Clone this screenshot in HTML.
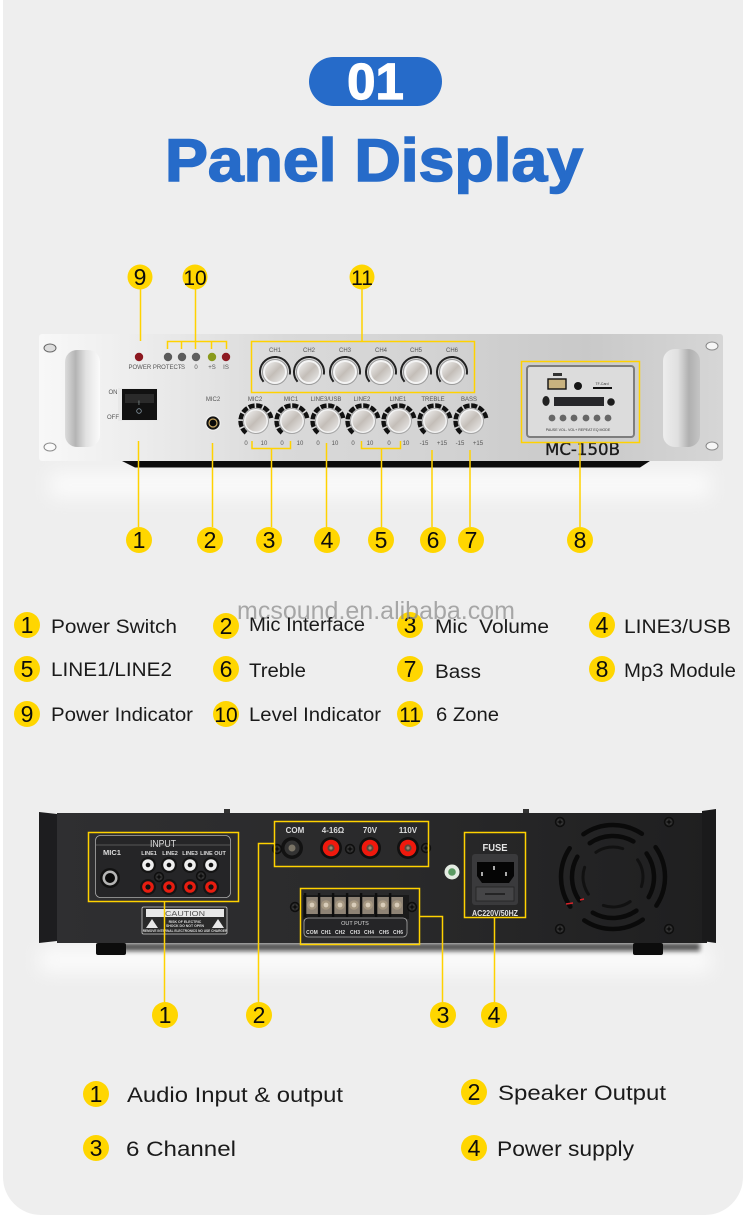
<!DOCTYPE html>
<html><head><meta charset="utf-8"><title>Panel Display</title>
<style>
html,body{margin:0;padding:0;background:#fff}
svg{display:block}
text{font-family:"Liberation Sans",sans-serif}
.l{font-size:19px;fill:#1a1a1a}
.m{font-size:21.5px;fill:#1a1a1a}
.b{font-size:23px;fill:#0c0c0c;text-anchor:middle}
.s{font-size:6px;fill:#555;text-anchor:middle}
.w{font-size:6.5px;fill:#ddd;text-anchor:middle;font-weight:bold}
.y{fill:none;stroke:#ffd200;stroke-width:1.5}
</style></head><body>
<svg width="750" height="1217" viewBox="0 0 750 1217" xmlns="http://www.w3.org/2000/svg">
<defs>
<filter id="soft" x="-10%" y="-60%" width="120%" height="220%"><feGaussianBlur stdDeviation="9"/></filter>
<filter id="soft2" x="-10%" y="-100%" width="120%" height="300%"><feGaussianBlur stdDeviation="2.500"/></filter>
<linearGradient id="panel" x1="0" y1="0" x2="1" y2="0">
<stop offset="0" stop-color="#f8f8f8"/><stop offset=".2" stop-color="#e8e8e8"/><stop offset=".36" stop-color="#d9d9d9"/><stop offset=".55" stop-color="#d4d4d4"/><stop offset=".8" stop-color="#c9c9c9"/><stop offset="1" stop-color="#d6d6d6"/>
</linearGradient>
<linearGradient id="handle" x1="0" y1="0" x2="1" y2="0">
<stop offset="0" stop-color="#dcdcdc"/><stop offset=".3" stop-color="#b4b4b4"/><stop offset=".6" stop-color="#e2e2e2"/><stop offset="1" stop-color="#fbfbfb"/>
</linearGradient>
<linearGradient id="handleR" x1="0" y1="0" x2="1" y2="0">
<stop offset="0" stop-color="#ededed"/><stop offset=".4" stop-color="#e0e0e0"/><stop offset=".7" stop-color="#b0b0b0"/><stop offset="1" stop-color="#c4c4c4"/>
</linearGradient>
<linearGradient id="cap" x1="0" y1="0" x2="1" y2="1">
<stop offset="0" stop-color="#f2f2f2"/><stop offset=".5" stop-color="#c4beb8"/><stop offset="1" stop-color="#ededed"/>
</linearGradient>
<linearGradient id="rear" x1="0" y1="0" x2="1" y2="0">
<stop offset="0" stop-color="#2f2f31"/><stop offset=".5" stop-color="#2a2a2b"/><stop offset="1" stop-color="#1f1f20"/>
</linearGradient>
<symbol id="knobS" overflow="visible">
<circle r="15" fill="none" stroke="#222" stroke-width="2" stroke-dasharray="60 34" transform="rotate(140)"/>
<circle r="12.500" fill="#f4f4f4" stroke="#9a9a9a" stroke-width="1"/>
<circle r="10" fill="url(#cap)"/>
</symbol>
<symbol id="knobL" overflow="visible">
<circle r="15.500" fill="none" stroke="#111" stroke-width="4.400" stroke-dasharray="6 1.600 6 1.600 6 1.600 6 1.600 6 1.600 6 1.600 6 1.600 6 40" transform="rotate(130)"/>
<circle r="12.500" fill="#f2f2f2" stroke="#a5a5a5" stroke-width="1"/>
<circle r="10.500" fill="url(#cap)"/>
</symbol>
<symbol id="rca" overflow="visible">
<circle r="8" fill="#151515"/><circle r="5.800" fill="#eee"/><circle r="2.300" fill="#111"/>
</symbol>
<symbol id="rcaR" overflow="visible">
<circle r="8" fill="#151515"/><circle r="5.800" fill="#e81d10"/><circle r="2.600" fill="#111"/>
</symbol>
<symbol id="post" overflow="visible">
<circle r="11" fill="#111"/><circle r="8.300" fill="#f0190d"/><circle r="3.600" fill="#5a4b3e"/><circle r="1.600" fill="#9c8b75"/>
</symbol>
<symbol id="screw" overflow="visible">
<circle r="5.200" fill="#0e0e0e"/><circle r="3.600" fill="#333"/><path d="M-2.400 0H2.400M0 -2.400V2.400" stroke="#000" stroke-width="1"/>
</symbol>
<symbol id="term" overflow="visible">
<rect x="-6" y="-9" width="12" height="17" fill="#8e8375"/><circle cy="-1" r="4.800" fill="#a69882"/><circle cy="-1" r="2.400" fill="#d8ccb9"/>
<rect x="-8.100" y="-13" width="2.400" height="24" fill="#0d0d0d"/>
</symbol>
</defs>

<rect width="750" height="1217" fill="#fff"/>
<path d="M3 0H743V1177a38 38 0 0 1-38 38H41a38 38 0 0 1-38-38Z" fill="#eeeeee"/>

<!-- Title -->
<rect x="309" y="57" width="133" height="49" rx="24.500" fill="#266bc9"/>
<text x="375.500" y="99" font-size="51" font-weight="bold" fill="#fff" stroke="#fff" stroke-width="1.200" text-anchor="middle">01</text>
<text x="165" y="181" font-size="60" font-weight="bold" fill="#266bc9" stroke="#266bc9" stroke-width="1.600" textLength="418" lengthAdjust="spacingAndGlyphs">Panel Display</text>

<!-- Front unit -->
<rect x="50" y="472" width="660" height="26" fill="#fafafa" filter="url(#soft)"/>
<path d="M118 459H653L640 467.500H135Z" fill="#0c0c0c"/>
<rect x="39" y="334" width="684" height="127" rx="3" fill="url(#panel)"/>
<rect x="65" y="350" width="35" height="97" rx="12" fill="url(#handle)"/>
<rect x="663" y="349" width="37" height="98" rx="12" fill="url(#handleR)"/>
<ellipse cx="50" cy="348" rx="6" ry="4" fill="#ddd" stroke="#666" stroke-width="1"/>
<ellipse cx="50" cy="447" rx="6" ry="4" fill="#fafafa" stroke="#888" stroke-width="1"/>
<ellipse cx="712" cy="346" rx="6" ry="4" fill="#f6f6f6" stroke="#888" stroke-width="1"/>
<ellipse cx="712" cy="446" rx="6" ry="4" fill="#f6f6f6" stroke="#888" stroke-width="1"/>

<!-- LEDs -->
<circle cx="139" cy="357" r="4.200" fill="#8c1820"/>
<circle cx="168" cy="357" r="4.200" fill="#5a5a5a"/>
<circle cx="182" cy="357" r="4.200" fill="#5c5c5c"/>
<circle cx="196" cy="357" r="4.200" fill="#5e5e5e"/>
<circle cx="212" cy="357" r="4.200" fill="#8a9a1c"/>
<circle cx="226" cy="357" r="4.200" fill="#8e1a22"/>
<text class="s" x="155" y="369">POWER PROTECT</text>
<text class="s" x="182" y="369">-S</text>
<text class="s" x="196" y="369">0</text>
<text class="s" x="212" y="369">+S</text>
<text class="s" x="226" y="369">IS</text>

<!-- Switch -->
<rect x="118" y="388" width="41" height="33" fill="#e8e8e8"/>
<rect x="122" y="389" width="35" height="31" fill="#111"/>
<rect x="125" y="394" width="29" height="9" fill="#2a2a2a"/>
<text class="s" x="139" y="405" style="fill:#9aa">I</text>
<circle cx="139" cy="411" r="2.300" fill="none" stroke="#8a9aa5" stroke-width=".8"/>
<text class="s" x="113" y="394">ON</text>
<text class="s" x="113" y="419">OFF</text>

<!-- Mic2 -->
<text class="s" x="213" y="401">MIC2</text>
<circle cx="213" cy="423" r="8" fill="#ededed"/>
<circle cx="213" cy="423" r="6.600" fill="#111"/>
<circle cx="213" cy="423" r="4.600" fill="#c9a760"/>
<circle cx="213" cy="423" r="3.400" fill="#0a0a0a"/>

<!-- CH knobs -->
<g>
<text class="s" x="275" y="352">CH1</text><text class="s" x="309" y="352">CH2</text><text class="s" x="345" y="352">CH3</text><text class="s" x="381" y="352">CH4</text><text class="s" x="416" y="352">CH5</text><text class="s" x="452" y="352">CH6</text>
<use href="#knobS" x="275" y="372"/><use href="#knobS" x="309" y="372"/><use href="#knobS" x="345" y="372"/><use href="#knobS" x="381" y="372"/><use href="#knobS" x="416" y="372"/><use href="#knobS" x="452" y="372"/>
</g>
<!-- Volume knobs -->
<g>
<text class="s" x="255" y="401">MIC2</text><text class="s" x="291" y="401">MIC1</text><text class="s" x="326" y="401">LINE3/USB</text><text class="s" x="362" y="401">LINE2</text><text class="s" x="398" y="401">LINE1</text><text class="s" x="433" y="401">TREBLE</text><text class="s" x="469" y="401">BASS</text>
<use href="#knobL" x="256" y="421"/><use href="#knobL" x="292" y="421"/><use href="#knobL" x="328" y="421"/><use href="#knobL" x="363" y="421"/><use href="#knobL" x="399" y="421"/><use href="#knobL" x="435" y="421"/><use href="#knobL" x="471" y="421"/>
<text class="s" x="246" y="445">0</text><text class="s" x="264" y="445">10</text><text class="s" x="282" y="445">0</text><text class="s" x="300" y="445">10</text><text class="s" x="318" y="445">0</text><text class="s" x="335" y="445">10</text><text class="s" x="353" y="445">0</text><text class="s" x="370" y="445">10</text><text class="s" x="389" y="445">0</text><text class="s" x="406" y="445">10</text><text class="s" x="424" y="445">-15</text><text class="s" x="442" y="445">+15</text><text class="s" x="460" y="445">-15</text><text class="s" x="478" y="445">+15</text>
</g>

<!-- MP3 module -->
<rect x="527" y="366" width="107" height="71" rx="3" fill="#dcdcdc" stroke="#7d7d7d" stroke-width="2"/>
<rect x="548" y="379" width="18" height="10" fill="#c8b27f" stroke="#111" stroke-width="1.400"/>
<rect x="553" y="373" width="9" height="3" fill="#333"/>
<circle cx="578" cy="386" r="4" fill="#151515"/>
<rect x="593" y="387" width="19" height="2" fill="#111"/>
<text class="s" x="602" y="385" style="font-size:3.500px;fill:#333">TF-Card</text>
<rect x="554" y="397" width="50" height="9" fill="#27272a"/>
<ellipse cx="546" cy="401" rx="3.600" ry="5" fill="#222"/>
<circle cx="611" cy="402" r="3.800" fill="#1c1c1c"/>
<g fill="#666"><circle cx="552" cy="418" r="3.400"/><circle cx="563" cy="418" r="3.400"/><circle cx="574" cy="418" r="3.400"/><circle cx="586" cy="418" r="3.400"/><circle cx="597" cy="418" r="3.400"/><circle cx="608" cy="418" r="3.400"/></g>
<text class="s" x="578" y="431" style="font-size:3.600px;fill:#333">PAUSE VOL- VOL+ REPEAT EQ MODE</text>
<text x="545" y="455" font-size="17" fill="#1a1a1a" stroke="#1a1a1a" stroke-width=".35" textLength="75" lengthAdjust="spacingAndGlyphs" style="font-family:'DejaVu Sans',sans-serif">MC-150B</text>

<!-- Front yellow lines -->
<g class="y">
<path d="M140.500 289V341"/>
<path d="M195.500 289V341.500M167.500 349V341.500H226.500V349M181.500 342V349M195.500 342V349M211.500 342V349"/>
<path d="M362 289V341.500"/>
<rect x="251.500" y="341.500" width="223" height="51"/>
<rect x="521.500" y="361.500" width="118" height="81"/>
<path d="M580 442V527"/>
<path d="M138.500 441V527M212.500 443V527"/>
<path d="M252 441V448.500H290.500V441M271.500 448V527"/>
<path d="M326.500 443V527"/>
<path d="M361.500 441V448.500H400.500V441M381.500 448V527"/>
<path d="M432 450V527M470 450V527"/>
</g>
<g fill="#ffd600">
<circle cx="140" cy="277" r="12.500"/><circle cx="195" cy="277" r="12.500"/><circle cx="362" cy="277" r="12.500"/>
<circle cx="139" cy="540" r="13"/><circle cx="210" cy="540" r="13"/><circle cx="269" cy="540" r="13"/><circle cx="327" cy="540" r="13"/><circle cx="381" cy="540" r="13"/><circle cx="433" cy="540" r="13"/><circle cx="471" cy="540" r="13"/><circle cx="580" cy="540" r="13"/>
</g>
<text class="b" x="140" y="285">9</text><text class="b" x="195" y="285" style="font-size:21px">10</text><text class="b" x="362" y="285" style="font-size:21px">11</text>
<text class="b" x="139" y="548">1</text><text class="b" x="210" y="548">2</text><text class="b" x="269" y="548">3</text><text class="b" x="327" y="548">4</text><text class="b" x="381" y="548">5</text><text class="b" x="433" y="548">6</text><text class="b" x="471" y="548">7</text><text class="b" x="580" y="548">8</text>

<!-- Legend 1 -->
<g fill="#ffd600">
<circle cx="27" cy="625" r="13"/><circle cx="226" cy="626" r="13"/><circle cx="410" cy="625" r="13"/><circle cx="602" cy="625" r="13"/>
<circle cx="27" cy="669" r="13"/><circle cx="226" cy="669" r="13"/><circle cx="410" cy="669" r="13"/><circle cx="602" cy="669" r="13"/>
<circle cx="27" cy="714" r="13"/><circle cx="226" cy="714" r="13"/><circle cx="410" cy="714" r="13"/>
</g>
<text class="b" x="27" y="633">1</text><text class="b" x="226" y="634">2</text><text class="b" x="410" y="633">3</text><text class="b" x="602" y="633">4</text>
<text class="b" x="27" y="677">5</text><text class="b" x="226" y="677">6</text><text class="b" x="410" y="677">7</text><text class="b" x="602" y="677">8</text>
<text class="b" x="27" y="722">9</text><text class="b" x="226" y="722" style="font-size:21px">10</text><text class="b" x="410" y="722" style="font-size:21px">11</text>

<text x="237" y="619" font-size="25" fill="#8f8f8f" opacity=".75" textLength="278" lengthAdjust="spacingAndGlyphs">mcsound.en.alibaba.com</text>

<text class="l" x="51" y="633" textLength="126" lengthAdjust="spacingAndGlyphs">Power Switch</text>
<text class="l" x="249" y="631" textLength="116" lengthAdjust="spacingAndGlyphs">Mic Interface</text>
<text class="l" x="435" y="633" textLength="114" lengthAdjust="spacingAndGlyphs" xml:space="preserve">Mic  Volume</text>
<text class="l" x="624" y="633" textLength="107" lengthAdjust="spacingAndGlyphs">LINE3/USB</text>
<text class="l" x="51" y="676" textLength="121" lengthAdjust="spacingAndGlyphs">LINE1/LINE2</text>
<text class="l" x="249" y="677" textLength="57" lengthAdjust="spacingAndGlyphs">Treble</text>
<text class="l" x="435" y="678" textLength="46" lengthAdjust="spacingAndGlyphs">Bass</text>
<text class="l" x="624" y="677" textLength="112" lengthAdjust="spacingAndGlyphs">Mp3 Module</text>
<text class="l" x="51" y="721" textLength="142" lengthAdjust="spacingAndGlyphs">Power Indicator</text>
<text class="l" x="249" y="721" textLength="132" lengthAdjust="spacingAndGlyphs">Level Indicator</text>
<text class="l" x="436" y="721" textLength="63" lengthAdjust="spacingAndGlyphs">6 Zone</text>

<!-- Rear unit -->
<rect x="40" y="948" width="670" height="24" fill="#fbfbfb" filter="url(#soft)"/>
<rect x="110" y="943" width="590" height="8" fill="#111" opacity=".7" filter="url(#soft2)"/>
<rect x="96" y="943" width="30" height="12" rx="2" fill="#0c0c0c"/>
<rect x="633" y="943" width="30" height="12" rx="2" fill="#0c0c0c"/>
<rect x="57" y="813" width="650" height="130" fill="url(#rear)"/>
<path d="M39 812L57 814V941L39 943Z" fill="#1d1d1f"/>
<path d="M702 811L716 809V943L702 941Z" fill="#1a1a1b"/>
<rect x="224" y="809" width="6" height="4" fill="#333"/><rect x="523" y="809" width="6" height="4" fill="#333"/>

<!-- Input plate -->
<rect x="95.500" y="835.500" width="135" height="62" rx="5" fill="#252527" stroke="#aaa" stroke-width=".8"/>
<path d="M96 845H230" stroke="#888" stroke-width=".6"/>
<text class="w" x="163" y="847" style="font-size:10.500px;font-weight:normal" textLength="26" lengthAdjust="spacingAndGlyphs">INPUT</text>
<text class="w" x="112" y="855" style="font-size:7.500px">MIC1</text>
<text class="w" x="149" y="855" style="font-size:5.500px">LINE1</text><text class="w" x="170" y="855" style="font-size:5.500px">LINE2</text><text class="w" x="190" y="855" style="font-size:5.500px">LINE3</text><text class="w" x="213" y="855" style="font-size:5.500px">LINE OUT</text>
<circle cx="110" cy="878" r="10" fill="#111"/><circle cx="110" cy="878" r="7.500" fill="#b5b5b5"/><circle cx="110" cy="878" r="5" fill="#0a0a0a"/>
<use href="#rca" x="148" y="865"/><use href="#rca" x="169" y="865"/><use href="#rca" x="190" y="865"/><use href="#rca" x="211" y="865"/>
<use href="#rcaR" x="148" y="887"/><use href="#rcaR" x="169" y="887"/><use href="#rcaR" x="190" y="887"/><use href="#rcaR" x="211" y="887"/>
<use href="#screw" x="159" y="877"/><use href="#screw" x="201" y="876"/>

<!-- Caution -->
<rect x="142" y="907" width="85" height="27" rx="1.500" fill="#2a2a2a" stroke="#ccc" stroke-width=".8"/>
<rect x="146" y="909" width="78" height="8" fill="#e8e8e8"/>
<text x="185" y="916" font-size="7" fill="#555" text-anchor="middle" textLength="40" lengthAdjust="spacingAndGlyphs">CAUTION</text>
<path d="M146 928L152 919L158 928ZM212 928L218 919L224 928Z" fill="#e8e8e8"/>
<text class="w" x="185" y="923" style="font-size:3.500px">RISK OF ELECTRIC</text>
<text class="w" x="185" y="927" style="font-size:3.500px">SHOCK DO NOT OPEN</text>
<text class="w" x="185" y="932" style="font-size:3.200px">REMOVE INTERNAL ELECTRONICS NO USE CHARGER</text>

<!-- Posts -->
<text class="w" x="295" y="833" style="font-size:8px">COM</text><text class="w" x="333" y="833" style="font-size:8px">4-16Ω</text><text class="w" x="370" y="833" style="font-size:8px">70V</text><text class="w" x="408" y="833" style="font-size:8px">110V</text>
<circle cx="292" cy="848" r="11" fill="#121212"/><circle cx="292" cy="848" r="7.500" fill="#333"/><circle cx="292" cy="848" r="3.500" fill="#7a7466"/>
<use href="#post" x="331" y="848"/><use href="#post" x="370" y="848"/><use href="#post" x="408" y="848"/>
<use href="#screw" x="277" y="849"/><use href="#screw" x="350" y="849"/><use href="#screw" x="426" y="848"/>

<!-- Terminal block -->
<rect x="303" y="895" width="106" height="24" fill="#1a1a1a"/>
<use href="#term" x="312" y="906"/><use href="#term" x="326" y="906"/><use href="#term" x="340" y="906"/><use href="#term" x="354" y="906"/><use href="#term" x="368" y="906"/><use href="#term" x="383" y="906"/><use href="#term" x="397" y="906"/>
<use href="#screw" x="295" y="907"/><use href="#screw" x="412" y="907"/>
<rect x="304" y="918" width="103" height="19" rx="4" fill="#252527" stroke="#aaa" stroke-width=".8"/>
<text class="w" x="355" y="925" style="font-size:5.500px;font-weight:normal">OUT PUTS</text>
<g style="font-size:5px"><text class="w" x="312" y="934" style="font-size:5px">COM</text><text class="w" x="326" y="934" style="font-size:5px">CH1</text><text class="w" x="340" y="934" style="font-size:5px">CH2</text><text class="w" x="355" y="934" style="font-size:5px">CH3</text><text class="w" x="369" y="934" style="font-size:5px">CH4</text><text class="w" x="384" y="934" style="font-size:5px">CH5</text><text class="w" x="398" y="934" style="font-size:5px">CH6</text></g>

<!-- Sticker -->
<circle cx="452" cy="872" r="7.500" fill="#e4ece2"/><circle cx="452" cy="872" r="3.800" fill="#5a9a62"/>

<!-- Fuse -->
<text class="w" x="495" y="851" style="font-size:10px;fill:#e6e6e6" textLength="25" lengthAdjust="spacingAndGlyphs">FUSE</text>
<rect x="472" y="854" width="46" height="51" rx="3" fill="#3a3a3c"/>
<path d="M477 862H514V876L509 883H482L477 876Z" fill="#050505"/>
<rect x="476" y="887" width="38" height="14" fill="#454547" stroke="#222" stroke-width=".8"/>
<path d="M485 894H505" stroke="#1a1a1a" stroke-width="1.500"/>
<rect x="481" y="872" width="2" height="4" fill="#aaa"/><rect x="493" y="866" width="2" height="4" fill="#aaa"/><rect x="505" y="872" width="2" height="4" fill="#aaa"/>
<text class="w" x="495" y="916" style="font-size:8px;fill:#e6e6e6" textLength="46" lengthAdjust="spacingAndGlyphs">AC220V/50HZ</text>

<!-- Fan -->
<g fill="none" stroke="#0a0a0a" stroke-linecap="round">
<circle cx="613" cy="877" r="52" stroke-width="4.500" stroke-dasharray="62 19.700" transform="rotate(-35 613 877)"/>
<circle cx="613" cy="877" r="41" stroke-width="4.500" stroke-dasharray="46 18.400" transform="rotate(-35 613 877)"/>
<circle cx="613" cy="877" r="30" stroke-width="3" stroke="#111" stroke-dasharray="28 19.100" transform="rotate(-35 613 877)"/>
</g>
<path d="M566 904L573 903M580 900L584 899" stroke="#d8242a" stroke-width="1.500"/>
<use href="#screw" x="560" y="822"/><use href="#screw" x="669" y="822"/><use href="#screw" x="560" y="929"/><use href="#screw" x="669" y="929"/>

<!-- Rear yellow lines -->
<g class="y">
<rect x="88.500" y="832.500" width="150" height="69"/>
<rect x="274.500" y="821.500" width="154" height="45"/>
<rect x="300.500" y="888.500" width="119" height="56"/>
<rect x="464.500" y="832.500" width="61" height="85"/>
<path d="M164.500 901V1003"/>
<path d="M274 843.500H258.500V1003"/>
<path d="M419 916.500H442.500V1003"/>
<path d="M494.500 917V1003"/>
</g>
<g fill="#ffd600">
<circle cx="165" cy="1015" r="13"/><circle cx="259" cy="1015" r="13"/><circle cx="443" cy="1015" r="13"/><circle cx="494" cy="1015" r="13"/>
<circle cx="96" cy="1094" r="13"/><circle cx="474" cy="1092" r="13"/><circle cx="96" cy="1148" r="13"/><circle cx="474" cy="1148" r="13"/>
</g>
<text class="b" x="165" y="1023">1</text><text class="b" x="259" y="1023">2</text><text class="b" x="443" y="1023">3</text><text class="b" x="494" y="1023">4</text>
<text class="b" x="96" y="1102">1</text><text class="b" x="474" y="1100">2</text><text class="b" x="96" y="1156">3</text><text class="b" x="474" y="1156">4</text>

<text class="m" x="127" y="1102" textLength="216" lengthAdjust="spacingAndGlyphs">Audio Input &amp; output</text>
<text class="m" x="498" y="1100" textLength="168" lengthAdjust="spacingAndGlyphs">Speaker Output</text>
<text class="m" x="126" y="1156" textLength="110" lengthAdjust="spacingAndGlyphs">6 Channel</text>
<text class="m" x="497" y="1156" textLength="137" lengthAdjust="spacingAndGlyphs">Power supply</text>
</svg>
</body></html>
